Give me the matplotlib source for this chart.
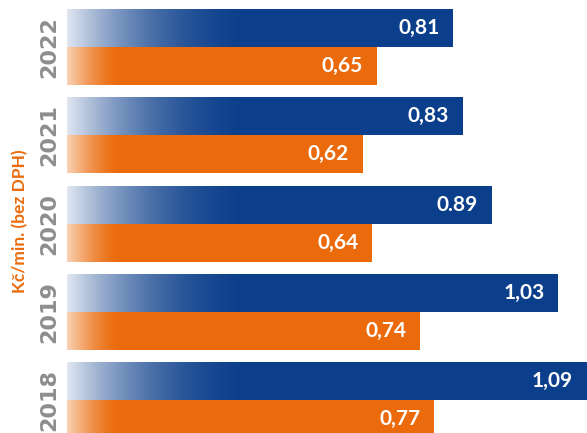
import numpy as np
import matplotlib.pyplot as plt

years = ["2022", "2021", "2020", "2019", "2018"]
blue_values = [0.81, 0.83, 0.89, 1.03, 1.09]
orange_values = [0.65, 0.62, 0.64, 0.74, 0.77]
blue_labels = ["0,81", "0,83", "0.89", "1,03", "1,09"]
orange_labels = ["0,65", "0,62", "0,64", "0,74", "0,77"]

BLUE = "#0b3e8b"
ORANGE = "#eb6b0c"
GRAY = "#8e8e8e"

bar_h = 0.43
pos = np.arange(len(years))

fig = plt.figure(figsize=(5.87, 4.33), dpi=100)
ax = fig.add_axes([67 / 587, 0, 1 - 67 / 587, 1])


def fade_bar(rect, length, power, start):
    # white overlay fading out from the left edge of the bar
    n = 256
    t = np.linspace(0, 1, n)
    img = np.ones((1, n, 4))
    img[0, :, 3] = (1 - t) ** power * start
    y0 = rect.get_y()
    y1 = y0 + rect.get_height()
    im = ax.imshow(img, extent=(0, length, y1, y0), aspect="auto",
                   interpolation="bilinear", zorder=3)
    im.set_clip_path(rect)


blue_bars = ax.barh(pos - bar_h / 2, blue_values, height=bar_h, color=BLUE,
                    zorder=2)
orange_bars = ax.barh(pos + bar_h / 2, orange_values, height=bar_h,
                      color=ORANGE, zorder=2)

for r in blue_bars:
    fade_bar(r, 0.42, 2.2, 0.88)
for r in orange_bars:
    fade_bar(r, 0.11, 1.5, 0.7)

for i in range(len(years)):
    ax.annotate(blue_labels[i], (blue_values[i], pos[i] - bar_h / 2),
                xytext=(-14, 0), textcoords="offset pixels", ha="right",
                va="center", color="white", fontsize=15, fontweight="bold",
                family="Lato", zorder=4)
    ax.annotate(orange_labels[i], (orange_values[i], pos[i] + bar_h / 2),
                xytext=(-14, 0), textcoords="offset pixels", ha="right",
                va="center", color="white", fontsize=15, fontweight="bold",
                family="Lato", zorder=4)
    fig.text(49 / 587, 1 - (47 + i * 88.3) / 433, years[i], rotation=90,
             ha="center", va="center", color=GRAY, fontsize=16,
             fontweight="bold", family="DejaVu Sans")

fig.text(20 / 587, 1 - 221 / 433, "Kč/min. (bez DPH)", rotation=90,
         ha="center", va="center", color=ORANGE, fontsize=12.5,
         fontweight="bold", family="Lato")

ax.set_xlim(0, 1.09)
ax.set_ylim(4.371, -0.532)
ax.axis("off")

fig.savefig("out.png", dpi=100)
